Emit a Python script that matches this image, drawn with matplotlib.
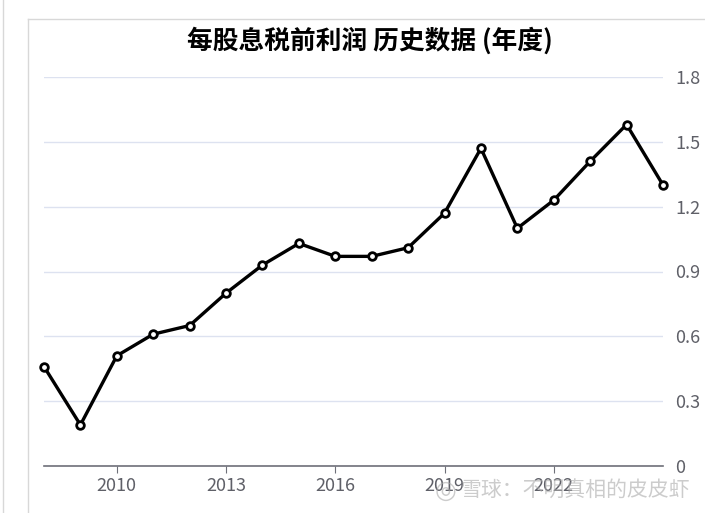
import matplotlib
matplotlib.use("Agg")
import matplotlib.pyplot as plt
from matplotlib.lines import Line2D

plt.rcParams['font.family'] = ['Noto Sans CJK SC', 'DejaVu Sans']

# datos
anios = list(range(2008, 2026))
valores = [0.46, 0.19, 0.51, 0.61, 0.65, 0.80, 0.93, 1.03, 0.97, 0.97,
           1.01, 1.17, 1.47, 1.10, 1.23, 1.41, 1.58, 1.30]
ticks_x = [2010, 2013, 2016, 2019, 2022]
ticks_y = [0, 0.3, 0.6, 0.9, 1.2, 1.5, 1.8]
etiquetas_y = ['0', '0.3', '0.6', '0.9', '1.2', '1.5', '1.8']
titulo = '每股息税前利润 历史数据 (年度)'
marca = '雪球：不明真相的皮皮虾'

W, H = 705, 513
fig = plt.figure(figsize=(W / 100, H / 100), dpi=100)
ax = fig.add_axes([44 / W, 1 - 466 / H, (663 - 44) / W, (466 - 77) / H])

# línea con marcadores blancos
ax.plot(anios, valores, color='black', lw=2.4, marker='o', ms=5.5,
        mfc='white', mec='black', mew=2, zorder=3, clip_on=False)

ax.set_xlim(2008, 2025)
ax.set_ylim(0, 1.8)
ax.set_yticks(ticks_y)
ax.set_yticklabels(etiquetas_y)
ax.set_xticks(ticks_x)
ax.set_xticklabels([str(a) for a in ticks_x])

ax.yaxis.tick_right()
ax.grid(axis='y', color='#dde2f0', lw=1)
ax.set_axisbelow(True)
for lado in ['top', 'left', 'right']:
    ax.spines[lado].set_visible(False)
ax.spines['bottom'].set_color('#6e7079')
ax.spines['bottom'].set_linewidth(1.2)
ax.tick_params(axis='y', length=0, pad=9, labelsize=13, labelcolor='#5f6068')
ax.tick_params(axis='x', length=5, color='#6e7079', pad=3, labelsize=13,
               labelcolor='#5f6068')

# título
fig.text(370 / W, 1 - 41 / H, titulo, ha='center', va='center',
         fontsize=18.5, color='black', fontweight='bold')

# marco gris
fig.add_artist(Line2D([28 / W, 1], [1 - 19 / H, 1 - 19 / H], color='#d8d8d8', lw=1))
fig.add_artist(Line2D([28 / W, 28 / W], [0, 1 - 19 / H], color='#d8d8d8', lw=1))
fig.add_artist(Line2D([3 / W, 3 / W], [0, 1], color='#d8d8d8', lw=1))

# marca de agua
fig.text(446 / W, 1 - 491 / H, '◎', ha='center', va='center', fontsize=18,
         color='#aaaaaa', alpha=0.6, family=['DejaVu Sans'])
fig.text(460 / W, 1 - 491 / H, marca, ha='left', va='center', fontsize=15,
         color='#aaaaaa', alpha=0.6)

fig.savefig('out.png', dpi=100)
